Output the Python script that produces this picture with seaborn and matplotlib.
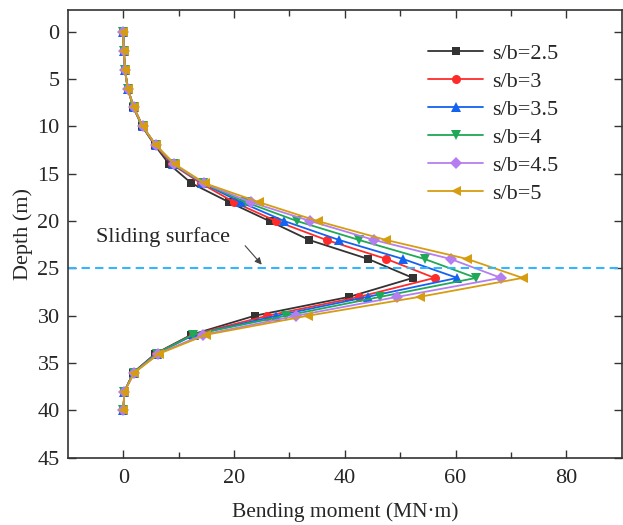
import matplotlib
matplotlib.use("Agg")
import matplotlib.pyplot as plt
import numpy as np
import pandas as pd
import seaborn as sns

depth = list(range(0, 41, 2))

s_25 = [0, 0.1, 0.3, 0.8, 1.8, 3.4, 5.7, 8.3, 12.3, 19.1, 26.4, 33.6, 44.2, 52.3, 40.8, 23.7, 12.3, 5.8, 1.8, 0.2, 0]
s_3 = [0, 0.1, 0.3, 0.8, 1.9, 3.5, 5.8, 8.8, 14.0, 20.0, 27.6, 36.7, 47.5, 56.2, 42.6, 26.0, 12.5, 5.9, 1.9, 0.2, 0]
s_35 = [0, 0.1, 0.3, 0.8, 1.9, 3.5, 5.9, 9.0, 14.3, 21.2, 29.1, 39.0, 50.5, 60.3, 44.1, 27.6, 12.8, 6.0, 1.9, 0.2, 0]
s_4 = [0, 0.1, 0.3, 0.8, 1.9, 3.5, 5.9, 9.1, 14.4, 22.1, 31.4, 42.6, 54.4, 63.7, 46.4, 29.3, 12.6, 6.0, 1.9, 0.2, 0]
s_45 = [0, 0.1, 0.3, 0.8, 1.9, 3.5, 5.9, 9.2, 14.5, 23.0, 33.8, 45.3, 59.1, 68.2, 49.5, 31.2, 14.4, 6.3, 2.0, 0.2, 0]
s_5 = [0, 0.1, 0.3, 0.8, 1.9, 3.5, 5.9, 9.35, 14.7, 24.5, 35.1, 47.5, 62.1, 72.1, 53.5, 33.3, 15.0, 6.5, 2.0, 0.2, 0]

labels = ["s/b=2.5", "s/b=3", "s/b=3.5", "s/b=4", "s/b=4.5", "s/b=5"]
series = [s_25, s_3, s_35, s_4, s_45, s_5]
colors = ["#333333", "#ff2a2a", "#1462f0", "#1fa855", "#b57ef0", "#d69d10"]
markers = ["s", "o", "^", "v", "D", "<"]
sizes = [6, 6.5, 7, 7, 6, 7]

sliding_depth = 25

sns.set_theme(style="ticks")
plt.rcParams["font.family"] = ["Liberation Serif", "DejaVu Serif"]
fs = 16

fig = plt.figure(figsize=(6.23, 5.25), dpi=100)
ax = fig.add_axes([0.109, 0.128, 0.889, 0.853])

for lab, vals, col, mk, ms in zip(labels, series, colors, markers, sizes):
    df = pd.DataFrame({"moment": vals, "depth": depth})
    sns.lineplot(data=df, x="moment", y="depth", sort=False, estimator=None,
                 color=col, marker=mk, markersize=ms, markeredgewidth=0,
                 linewidth=1.3, label=lab, ax=ax)

ax.axhline(sliding_depth, color="#33b5ff", lw=1.5, dashes=(4, 2.5))

ax.text(-4.9, 21.7, "Sliding surface", fontsize=fs, va="center", ha="left")
ax.annotate("", xy=(25.0, 24.6), xytext=(22.0, 22.6),
            arrowprops=dict(arrowstyle="-|>", color="#444444", lw=0.8,
                            mutation_scale=10, shrinkA=0, shrinkB=0))

ax.set_xlim(-10, 90)
ax.set_ylim(45, -2.3)
ax.set_xticks([0, 20, 40, 60, 80])
ax.set_xticks([10, 30, 50, 70], minor=True)
ax.set_yticks(np.arange(0, 46, 5))
ax.tick_params(which="both", direction="in", top=True, right=True,
               labelsize=fs, width=1.0, color="#333333")
ax.tick_params(which="major", length=6)
ax.tick_params(axis="x", which="major", pad=8)
ax.tick_params(axis="y", which="major", pad=6)
ax.tick_params(which="minor", length=4)
for sp in ax.spines.values():
    sp.set_linewidth(1.2)
    sp.set_color("#333333")

ax.set_xlabel("Bending moment (MN·m)", fontsize=15.5, labelpad=10)
ax.set_ylabel("Depth (m)", fontsize=fs, labelpad=3)

ax.legend(loc="upper left", bbox_to_anchor=(0.65, 0.925), frameon=False,
          fontsize=fs, handlelength=2.5, labelspacing=0.33, borderaxespad=0,
          borderpad=0, handletextpad=0.4)

fig.savefig("out.png", dpi=100)
